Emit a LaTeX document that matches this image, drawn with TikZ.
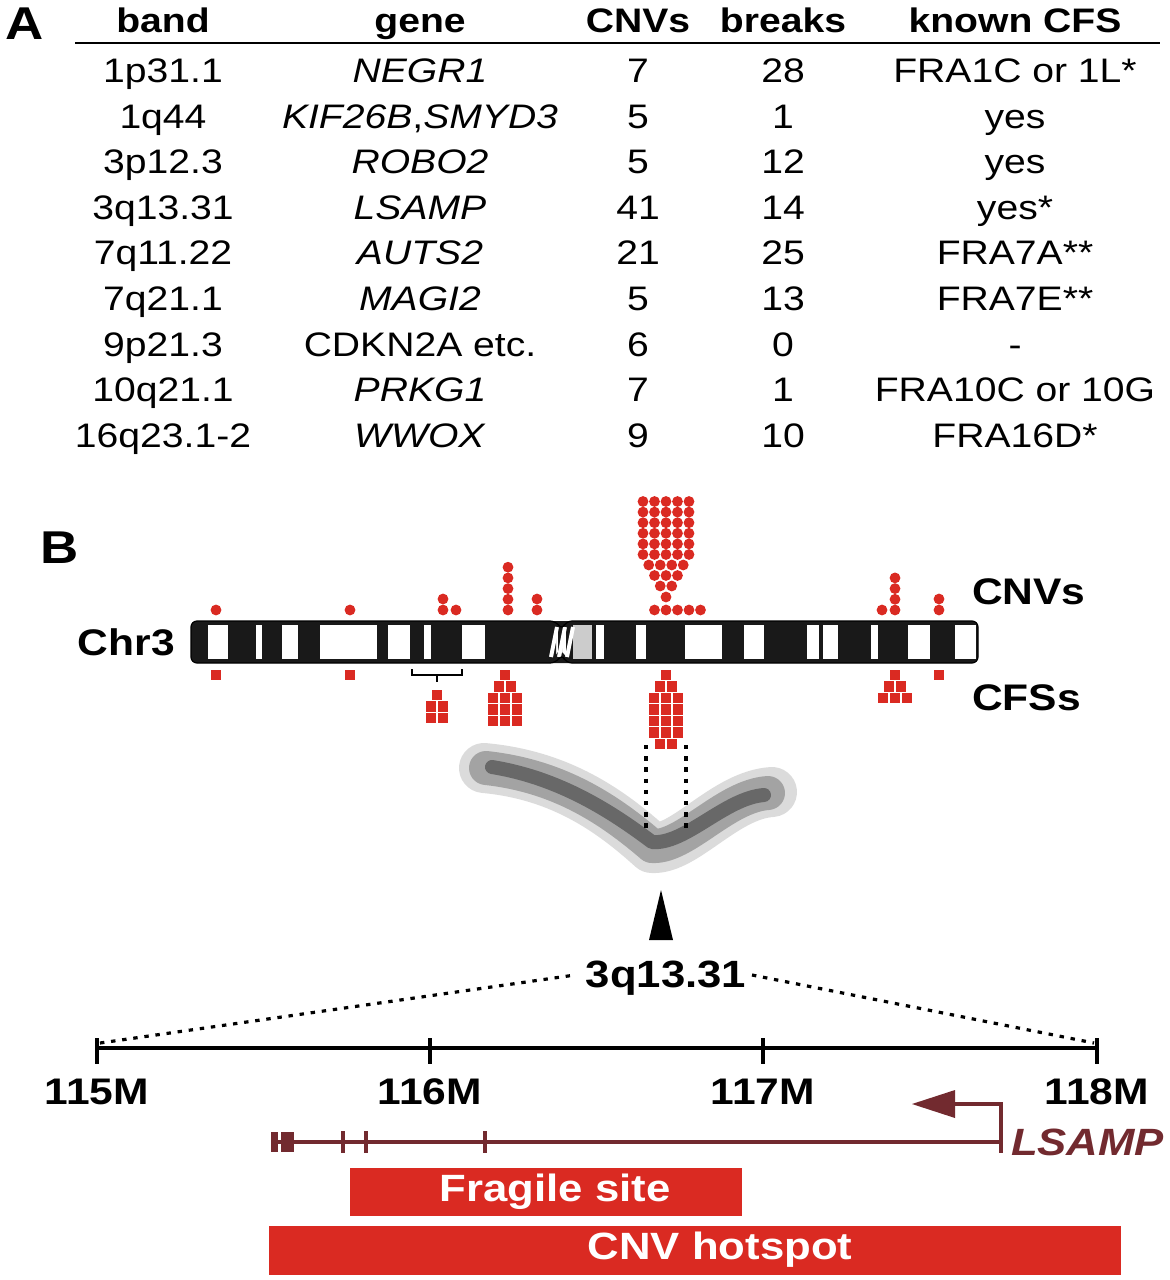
\documentclass[tikz,border=0pt]{standalone}
\usepackage{fontspec}
\setmainfont{Liberation Sans}[FakeStretch=1.15]
\usetikzlibrary{arrows.meta}
\definecolor{cred}{HTML}{DA2A22}
\definecolor{gene}{HTML}{722A2F}
\tikzset{
 tb/.style={anchor=base,font=\fontsize{17}{18}\selectfont},
 th/.style={anchor=base,font=\fontsize{17}{18}\selectfont\bfseries},
 lab/.style={font=\fontsize{18.5}{20}\selectfont\bfseries},
 dots/.style={line width=1.6pt, dash pattern=on 2.2pt off 3.4pt},
}
\newcommand{\cnv}[2]{\fill[cred] (#1,#2) circle[x radius=5.4, y radius=5.4];}
\newcommand{\cfs}[2]{\fill[cred] (#1-5.2,#2-5.2) rectangle (#1+5.2,#2+5.2);}
\newcommand{\trow}[6]{%
 \node[tb] at (163,#1+12) {#2};
 \node[tb] at (420,#1+12) {#3};
 \node[tb] at (638,#1+12) {#4};
 \node[tb] at (783,#1+12) {#5};
 \node[tb] at (1015,#1+12) {#6};}
\begin{document}
\begin{tikzpicture}[x=0.5pt,y=-0.5pt]
\useasboundingbox (0,0) rectangle (1169,1280);
% ---------- table
\node[th,anchor=center] at (25,24) {\fontsize{23}{24}\selectfont A};
\node[th] at (163,32) {band};
\node[th] at (420,32) {gene};
\node[th] at (638,32) {CNVs};
\node[th] at (783,32) {breaks};
\node[th] at (1015,32) {known CFS};
\draw[line width=1.2pt] (75,43) -- (1160,43);
\trow{70}{1p31.1}{\textit{NEGR1}}{7}{28}{FRA1C or 1L*}
\trow{116}{1q44}{\textit{KIF26B},\textit{SMYD3}}{5}{1}{yes}
\trow{161}{3p12.3}{\textit{ROBO2}}{5}{12}{yes}
\trow{207}{3q13.31}{\textit{LSAMP}}{41}{14}{yes*}
\trow{252}{7q11.22}{\textit{AUTS2}}{21}{25}{FRA7A**}
\trow{298}{7q21.1}{\textit{MAGI2}}{5}{13}{FRA7E**}
\trow{344}{9p21.3}{CDKN2A etc.}{6}{0}{-}
\trow{389}{10q21.1}{\textit{PRKG1}}{7}{1}{FRA10C or 10G}
\trow{435}{16q23.1-2}{\textit{WWOX}}{9}{10}{FRA16D*}
% ---------- B
\node[font=\fontsize{23}{24}\selectfont\bfseries] at (60,548) {B};
\node[lab,anchor=east] at (182,642) {Chr3};
\node[lab,anchor=west] at (965,592) {CNVs};
\node[lab,anchor=west] at (965,698) {CFSs};
% chromosome
\fill[black!90,rounded corners=3pt] (191,621) rectangle (556,663);
\fill[black!90,rounded corners=3pt] (566,621) rectangle (978,663);
\fill[black!90] (550,621) -- (572,621) -- (562,632) -- (562,652) -- (572,663) -- (550,663) -- (558,652) -- (558,632) -- cycle;
\foreach \a/\b in {208/228,256/262,282/298,320/377,388/410,424/431,462/485,596/604,636/646,685/722,744/764,807/819,823/838,871/878,908/930,955/976}
 \fill[white] (\a,625) rectangle (\b,659);
\fill[black!20] (573,625) rectangle (592,659);
\foreach \s in {0,8,16}
 \draw[white,line width=2pt] (551+\s,657) -- (557+\s,627);
\draw[black,line width=0.6pt,rounded corners=3pt] (191,621) -- (556,621) -- (562,630) -- (566,621) -- (978,621) -- (978,663) -- (566,663) -- (562,654) -- (556,663) -- (191,663) -- cycle;
% CNV dots
\cnv{216}{610}\cnv{350}{610}
\cnv{443}{610}\cnv{443}{599}\cnv{456}{610}
\foreach \k in {0,...,4} {\cnv{508}{610-10.7*\k}}
\cnv{537}{610}\cnv{537}{599}
\foreach \k in {0,...,4} {\cnv{654.5+11.5*\k}{610}}
\cnv{666}{597}
\cnv{660.25}{586}\cnv{671.75}{586}
\foreach \k in {0,1,2} {\cnv{654.5+11.5*\k}{575.5}}
\foreach \k in {0,...,3} {\cnv{648.75+11.5*\k}{565}}
\foreach \r in {0,...,5} {\foreach \k in {0,...,4} {\cnv{643+11.5*\k}{554.5-10.6*\r}}}
\cnv{882}{610}
\foreach \k in {0,...,3} {\cnv{895}{610-10.7*\k}}
\cnv{939}{610}\cnv{939}{599}
% CFS squares
\cfs{216}{675}\cfs{350}{675}
\draw[line width=0.8pt] (412,669) -- (412,675) -- (462,675) -- (462,669);
\draw[line width=0.8pt] (437,675) -- (437,682);
\cfs{437}{695}\cfs{431}{706.5}\cfs{443}{706.5}\cfs{431}{718}\cfs{443}{718}
\cfs{505}{675}\cfs{499}{686.5}\cfs{511}{686.5}
\foreach \r in {0,1,2} {\foreach \k in {0,1,2} {\cfs{493+12*\k}{698+11.5*\r}}}
\cfs{666}{675}\cfs{660}{686.5}\cfs{672}{686.5}
\foreach \r in {0,...,3} {\foreach \k in {0,1,2} {\cfs{654+12*\k}{698+11.5*\r}}}
\cfs{660}{744}\cfs{672}{744}
\cfs{895}{675}\cfs{889}{686.5}\cfs{901}{686.5}\cfs{883}{698}\cfs{895}{698}\cfs{907}{698}
\cfs{939}{675}
% blurred chromosome
\begin{scope}[line cap=round,line join=round]
\draw[black!20,opacity=0.7,line width=25pt] (484,768) .. controls (560,775) and (610,810) .. (652,848) .. controls (685,850) and (725,795) .. (772,792);
\draw[black!45,opacity=0.7,line width=17pt] (486,768) .. controls (560,776) and (610,810) .. (652,846) .. controls (685,848) and (725,796) .. (768,793);
\draw[black!75,opacity=0.6,line width=7pt] (492,767) .. controls (560,778) and (612,812) .. (652,842) .. controls (685,845) and (725,798) .. (764,795);
\end{scope}
\draw[dots] (646,745) -- (646,832);
\draw[dots] (686,745) -- (686,832);
\fill[black] (661,890) -- (673,940) -- (649,940) -- cycle;
\node[font=\fontsize{19}{20}\selectfont\bfseries] at (666,978) {3q13.31};
\draw[dots] (100,1043) -- (575,975);
\draw[dots] (752,975) -- (1094,1043);
% axis
\draw[line width=1.8pt] (97,1048) -- (1097,1048);
\foreach \x/\t in {97/115M,430/116M,763/117M,1097/118M}{
 \draw[line width=1.8pt] (\x,1038) -- (\x,1064);
 \node[lab] at (\x,1092) {\t};
}
% gene
\draw[gene,line width=2.4pt] (272,1142) -- (1000,1142);
\fill[gene] (271,1132) rectangle (278,1152);
\fill[gene] (281,1132) rectangle (294,1152);
\foreach \x in {343,366,485,1001} \draw[gene,line width=1.6pt] (\x,1131) -- (\x,1153);
\draw[gene,line width=2.4pt] (1001,1131) -- (1001,1104) -- (950,1104);
\fill[gene] (912,1104) -- (955,1090) -- (955,1118) -- cycle;
\node[text=gene,anchor=west,font=\fontsize{19}{20}\selectfont\bfseries\itshape] at (1004,1142) {LSAMP};
% bars
\fill[cred] (350,1168) rectangle (742,1216);
\node[text=white,font=\fontsize{19}{20}\selectfont\bfseries] at (555,1192) {Fragile site};
\fill[cred] (269,1226) rectangle (1121,1275);
\node[text=white,font=\fontsize{19}{20}\selectfont\bfseries] at (720,1250) {CNV hotspot};
\end{tikzpicture}
\end{document}
